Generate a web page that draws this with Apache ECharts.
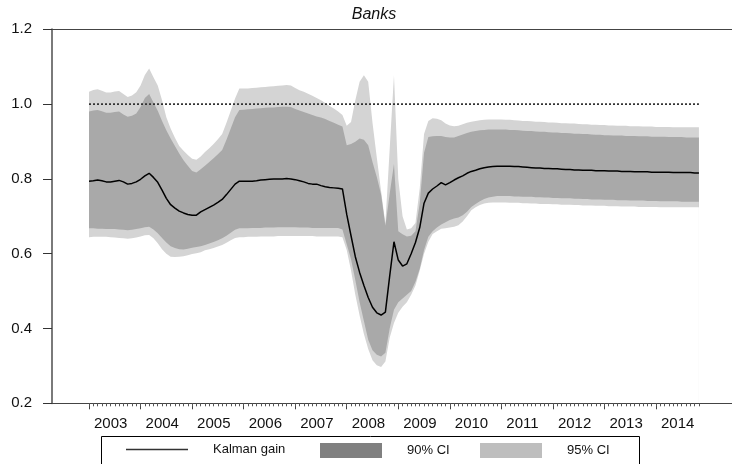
<!DOCTYPE html>
<html>
<head>
<meta charset="utf-8">
<script src="https://cdn.jsdelivr.net/npm/echarts@6/dist/echarts.min.js"></script>
<style>
  html, body { margin: 0; padding: 0; background: #fff; }
  #chart { width: 732px; height: 464px; }
</style>
</head>
<body>
<div id="chart"></div>
<script>
// Monthly observations, 2003M01 .. 2014M11
const months = [];
for (let y = 2003; y <= 2014; y++) {
  for (let m = 1; m <= 12; m++) {
    if (y === 2014 && m > 11) break;
    months.push(y + 'M' + String(m).padStart(2, '0'));
  }
}

// Kalman gain estimate
const kalmanGain = [
  0.794, 0.795, 0.797, 0.795, 0.792, 0.792, 0.794, 0.796, 0.792, 0.786, 0.788, 0.792,
  0.799, 0.808, 0.815, 0.804, 0.791, 0.770, 0.748, 0.731, 0.722, 0.714, 0.709, 0.705,
  0.703, 0.703, 0.712, 0.718, 0.724, 0.730, 0.737, 0.745, 0.758, 0.772, 0.786, 0.794,
  0.794, 0.794, 0.794, 0.795, 0.797, 0.798, 0.799, 0.800, 0.800, 0.800, 0.801, 0.800,
  0.798, 0.795, 0.792, 0.788, 0.786, 0.786, 0.782, 0.779, 0.777, 0.776, 0.775, 0.773,
  0.705, 0.648, 0.592, 0.550, 0.515, 0.483, 0.457, 0.442, 0.436, 0.444, 0.540, 0.632,
  0.583, 0.567, 0.573, 0.600, 0.630, 0.670, 0.735, 0.762, 0.773, 0.781, 0.790, 0.784,
  0.790, 0.797, 0.803, 0.808, 0.815, 0.820, 0.823, 0.827, 0.830, 0.832, 0.833, 0.834,
  0.834, 0.834, 0.834, 0.833, 0.833, 0.832, 0.831, 0.830, 0.829, 0.829, 0.828, 0.828,
  0.827, 0.827, 0.826, 0.825, 0.825, 0.824, 0.824, 0.823, 0.823, 0.823, 0.822, 0.822,
  0.822, 0.821, 0.821, 0.821, 0.820, 0.820, 0.820, 0.819, 0.819, 0.819, 0.819, 0.818,
  0.818, 0.818, 0.818, 0.818, 0.817, 0.817, 0.817, 0.817, 0.817, 0.816, 0.816
];

// 95% confidence interval, upper bound
const upper95 = [
  1.033, 1.038, 1.040, 1.036, 1.031, 1.031, 1.034, 1.035, 1.027, 1.019, 1.023, 1.032,
  1.050, 1.078, 1.095, 1.072, 1.050, 1.010, 0.965, 0.935, 0.910, 0.888, 0.875, 0.864,
  0.854, 0.851, 0.860, 0.872, 0.882, 0.893, 0.906, 0.920, 0.950, 0.982, 1.015, 1.042,
  1.042, 1.042, 1.043, 1.044, 1.045, 1.046, 1.047, 1.048, 1.049, 1.050, 1.051, 1.050,
  1.043, 1.037, 1.033, 1.028, 1.022, 1.016, 1.010, 1.003, 0.995, 0.988, 0.980, 0.971,
  0.942, 0.952, 1.010, 1.060, 1.077, 1.060, 0.950, 0.857, 0.767, 0.681, 0.880, 1.077,
  0.800, 0.700, 0.665, 0.668, 0.682, 0.775, 0.920, 0.955, 0.962, 0.961, 0.957, 0.948,
  0.943, 0.941, 0.942, 0.946, 0.950, 0.953, 0.955, 0.957, 0.958, 0.959, 0.959, 0.959,
  0.959, 0.958, 0.958, 0.957, 0.956, 0.955, 0.955, 0.954, 0.953, 0.953, 0.952, 0.951,
  0.951, 0.950, 0.949, 0.949, 0.948, 0.948, 0.947, 0.946, 0.946, 0.945, 0.945, 0.944,
  0.944, 0.943, 0.943, 0.942, 0.942, 0.942, 0.941, 0.941, 0.941, 0.940, 0.940, 0.940,
  0.939, 0.939, 0.939, 0.939, 0.938, 0.938, 0.938, 0.938, 0.938, 0.938, 0.938
];

// 90% confidence interval, upper bound
const upper90 = [
  0.980, 0.983, 0.984, 0.981, 0.977, 0.977, 0.979, 0.980, 0.972, 0.966, 0.969, 0.975,
  0.992, 1.016, 1.027, 1.004, 0.982, 0.955, 0.930, 0.908, 0.888, 0.868, 0.850, 0.835,
  0.821, 0.817, 0.826, 0.835, 0.845, 0.855, 0.866, 0.877, 0.905, 0.935, 0.965, 0.984,
  0.985, 0.986, 0.987, 0.988, 0.989, 0.990, 0.991, 0.991, 0.992, 0.993, 0.993, 0.992,
  0.987, 0.983, 0.979, 0.975, 0.971, 0.967, 0.964, 0.960, 0.955, 0.950, 0.945, 0.940,
  0.890, 0.893, 0.899, 0.908, 0.905, 0.890, 0.845, 0.805, 0.758, 0.675, 0.760, 0.840,
  0.660, 0.652, 0.646, 0.648, 0.660, 0.735, 0.870, 0.912, 0.914, 0.915, 0.915, 0.912,
  0.911, 0.911, 0.915, 0.919, 0.923, 0.926, 0.928, 0.930, 0.931, 0.932, 0.932, 0.932,
  0.932, 0.932, 0.931, 0.931, 0.930, 0.929, 0.928, 0.928, 0.927, 0.926, 0.926, 0.925,
  0.924, 0.924, 0.923, 0.923, 0.922, 0.921, 0.921, 0.920, 0.920, 0.919, 0.918, 0.918,
  0.917, 0.917, 0.916, 0.916, 0.916, 0.915, 0.915, 0.915, 0.914, 0.914, 0.914, 0.913,
  0.913, 0.913, 0.913, 0.912, 0.912, 0.912, 0.912, 0.911, 0.911, 0.911, 0.911
];

// 90% confidence interval, lower bound
const lower90 = [
  0.668, 0.668, 0.667, 0.667, 0.666, 0.666, 0.666, 0.665, 0.664, 0.663, 0.664, 0.666,
  0.668, 0.671, 0.672, 0.665, 0.655, 0.642, 0.630, 0.620, 0.615, 0.612, 0.611, 0.613,
  0.616, 0.618, 0.620, 0.623, 0.627, 0.631, 0.636, 0.641, 0.648, 0.656, 0.664, 0.668,
  0.668, 0.668, 0.669, 0.669, 0.669, 0.670, 0.670, 0.670, 0.671, 0.671, 0.671, 0.671,
  0.671, 0.670, 0.670, 0.670, 0.669, 0.669, 0.669, 0.669, 0.669, 0.669, 0.669, 0.665,
  0.625, 0.585, 0.530, 0.470, 0.420, 0.370, 0.342, 0.330, 0.325, 0.335, 0.400, 0.450,
  0.470, 0.480, 0.490, 0.500, 0.525, 0.560, 0.610, 0.645, 0.660, 0.670, 0.678, 0.684,
  0.690, 0.694, 0.697, 0.703, 0.712, 0.725, 0.733, 0.740, 0.746, 0.750, 0.752, 0.754,
  0.754, 0.754, 0.754, 0.753, 0.753, 0.752, 0.752, 0.752, 0.751, 0.751, 0.750, 0.750,
  0.749, 0.749, 0.748, 0.748, 0.748, 0.747, 0.747, 0.746, 0.746, 0.745, 0.745, 0.745,
  0.744, 0.744, 0.744, 0.743, 0.743, 0.743, 0.742, 0.742, 0.742, 0.742, 0.741, 0.741,
  0.741, 0.740, 0.740, 0.740, 0.740, 0.740, 0.739, 0.739, 0.739, 0.739, 0.739
];

// 95% confidence interval, lower bound
const lower95 = [
  0.644, 0.645, 0.645, 0.645, 0.645, 0.644, 0.643, 0.642, 0.641, 0.640, 0.641, 0.643,
  0.646, 0.649, 0.650, 0.641, 0.628, 0.612, 0.600, 0.592, 0.591, 0.592, 0.593, 0.596,
  0.599, 0.601, 0.604, 0.609, 0.612, 0.615, 0.619, 0.623, 0.629, 0.636, 0.642, 0.644,
  0.644, 0.645, 0.645, 0.645, 0.646, 0.646, 0.646, 0.646, 0.647, 0.647, 0.647, 0.647,
  0.647, 0.647, 0.647, 0.647, 0.647, 0.646, 0.646, 0.646, 0.646, 0.646, 0.646, 0.644,
  0.610, 0.555, 0.490, 0.435, 0.385, 0.345, 0.315, 0.302, 0.297, 0.312, 0.375, 0.415,
  0.442, 0.458, 0.470, 0.490, 0.515, 0.555, 0.600, 0.632, 0.653, 0.660, 0.667, 0.668,
  0.670, 0.672, 0.676, 0.686, 0.700, 0.716, 0.724, 0.730, 0.734, 0.736, 0.737, 0.737,
  0.737, 0.737, 0.736, 0.736, 0.736, 0.735, 0.735, 0.734, 0.734, 0.733, 0.733, 0.733,
  0.732, 0.732, 0.731, 0.731, 0.731, 0.730, 0.730, 0.729, 0.729, 0.729, 0.728, 0.728,
  0.728, 0.727, 0.727, 0.727, 0.726, 0.726, 0.726, 0.726, 0.725, 0.725, 0.725, 0.725,
  0.725, 0.724, 0.724, 0.724, 0.724, 0.724, 0.724, 0.724, 0.724, 0.724, 0.724
];

// Reference level drawn as a dotted line
const unitLevel = months.map(() => 1.0);

// y-axis tick values
const yTicks = [0.2, 0.4, 0.6, 0.8, 1.0, 1.2];

// Year ticks sit on each January observation
const yearTickIdx = months.map((m, i) => (m.endsWith('M01') ? i : -1)).filter(i => i >= 0);
const monthTickIdx = months.map((m, i) => i);

const FONT = "'Liberation Sans', Arial, Helvetica, sans-serif";
const LIGHT = '#d4d4d4';
const DARK = '#a9a9a9';

const pairs = arr => arr.map((v, i) => [i, v]);

// x range: a little margin before the first and after the last month
const X_MIN = -8.62;
const X_MAX = 149.7;

function band(name, data, color, z) {
  return {
    name: name,
    type: 'line',
    data: pairs(data),
    symbol: 'none',
    silent: true,
    z: z,
    color: color,
    lineStyle: { width: 0, color: color },
    areaStyle: { color: color, opacity: 1, origin: 'start' }
  };
}

const legendText = { fontSize: 13, color: '#111', padding: [0, 0, 0, 20], fontFamily: FONT };

const chart = echarts.init(document.getElementById('chart'), null, { renderer: 'canvas' });

chart.setOption({
  animation: false,
  backgroundColor: '#ffffff',
  textStyle: { fontFamily: FONT },
  grid: { left: 52, right: 0, top: 29.3, bottom: 60.7, outerBoundsMode: 'none', containLabel: false },
  xAxis: [
    {
      type: 'value', min: X_MIN, max: X_MAX, position: 'bottom', z: 10,
      axisLine: { show: true, onZero: false, lineStyle: { color: '#444', width: 1 } },
      axisTick: { show: true, customValues: yearTickIdx, length: 6, lineStyle: { color: '#444', width: 1 } },
      axisLabel: {
        show: true, customValues: yearTickIdx,
        formatter: v => months[Math.round(v)].slice(0, 4),
        align: 'left', padding: [0, 0, 0, 5], margin: 13,
        fontSize: 15, color: '#111', fontFamily: FONT
      },
      splitLine: { show: false }
    },
    {
      type: 'value', min: X_MIN, max: X_MAX, position: 'bottom', z: 10,
      axisLine: { show: false },
      axisTick: { show: true, customValues: monthTickIdx, length: 3, lineStyle: { color: '#555', width: 1 } },
      axisLabel: { show: false },
      splitLine: { show: false }
    },
    {
      type: 'value', min: X_MIN, max: X_MAX, position: 'top', z: 10,
      axisLine: { show: true, onZero: false, lineStyle: { color: '#444', width: 1 } },
      axisTick: { show: false },
      axisLabel: { show: false },
      splitLine: { show: false }
    }
  ],
  yAxis: {
    type: 'value', min: 0.2, max: 1.2, interval: 0.2, z: 10,
    axisLine: { show: true, onZero: false, lineStyle: { color: '#7a7a7a', width: 2 } },
    axisTick: { show: true, customValues: yTicks, length: 9, lineStyle: { color: '#333', width: 1 } },
    axisLabel: {
      customValues: yTicks,
      formatter: v => v.toFixed(1),
      fontSize: 15, color: '#111', margin: 20, fontFamily: FONT
    },
    splitLine: { show: false }
  },
  legend: [
    {
      left: 126, top: 443, padding: 0, itemWidth: 62, itemHeight: 15, selectedMode: false,
      symbolKeepAspect: true,
      textStyle: legendText,
      data: [{ name: 'Kalman gain', icon: 'path://M0,0H62V1.6H0Z', itemStyle: { color: '#333', borderWidth: 0 } }]
    },
    {
      left: 320, top: 443, padding: 0, itemWidth: 62, itemHeight: 15, selectedMode: false,
      textStyle: legendText,
      data: [{ name: '90% CI', icon: 'rect', itemStyle: { color: '#808080', borderWidth: 0 } }]
    },
    {
      left: 480, top: 443, padding: 0, itemWidth: 62, itemHeight: 15, selectedMode: false,
      textStyle: legendText,
      data: [{ name: '95% CI', icon: 'rect', itemStyle: { color: '#bebebe', borderWidth: 0 } }]
    }
  ],
  graphic: [
    {
      type: 'text', x: 374, y: 7, silent: true,
      style: { text: 'Banks', fill: '#111', align: 'center', font: "italic 16px " + FONT }
    },
    {
      type: 'rect', silent: true,
      shape: { x: 101.5, y: 436.5, width: 538, height: 40 },
      style: { fill: 'none', stroke: '#000', lineWidth: 1 }
    }
  ],
  series: [
    band('95% CI', upper95, LIGHT, 1),
    band('90% CI', upper90, DARK, 2),
    band('95% CI', lower90, LIGHT, 3),
    band('below band', lower95, '#ffffff', 4),
    {
      name: 'unit level', type: 'line', data: pairs(unitLevel), symbol: 'none', silent: true, z: 5,
      lineStyle: { color: '#333', width: 1.8, type: [2, 2], cap: 'butt' }
    },
    {
      name: 'Kalman gain', type: 'line', data: pairs(kalmanGain), symbol: 'none', silent: true, z: 6,
      color: '#000',
      lineStyle: { color: '#000', width: 1.5 }
    }
  ]
});
</script>
</body>
</html>
